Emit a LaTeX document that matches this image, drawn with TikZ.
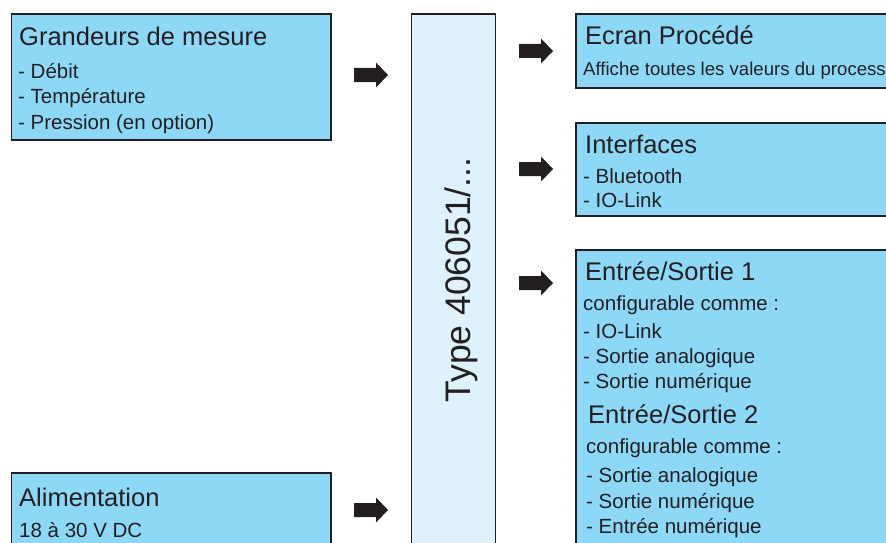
\documentclass[tikz,border=0pt]{standalone}
\usepackage{fontspec}
\setmainfont{Liberation Sans}
\definecolor{boxblue}{HTML}{8DD8F7}
\definecolor{paleblue}{HTML}{DFF2FB}
\definecolor{inkblack}{HTML}{231F20}

\begin{document}
\begin{tikzpicture}[x=1pt,y=-1pt,
    box/.style={draw=inkblack,line width=1.8pt,fill=boxblue},
    title/.style={anchor=base west,inner sep=0pt,text=inkblack,font=\fontsize{25.5}{30}\selectfont},
    item/.style={anchor=base west,inner sep=0pt,text=inkblack,font=\fontsize{20.5}{24}\selectfont}]
    \useasboundingbox (0,0) rectangle (886,543);
    \clip (0,0) rectangle (886,543);
    % boxes
    \draw[box] (11.5,14) rectangle (331,140);
    \draw[box] (11.5,473) rectangle (331,560);
    \draw[draw=inkblack,line width=1.8pt,fill=paleblue] (411.5,14) rectangle (495.5,560);
    \draw[box] (576,14) rectangle (900,88);
    \draw[box] (576,123) rectangle (900,216);
    \draw[box] (576,250) rectangle (900,560);
    % block arrows
    \foreach \ax/\ay in {354/75, 354/510, 519/51, 519/169, 519/283}
        \fill[inkblack] (\ax,\ay) ++(0,-7) -- ++(22,0) -- ++(0,-5.5) -- ++(12,12.5)
            -- ++(-12,12.5) -- ++(0,-5.5) -- ++(-22,0) -- cycle;
    % type
    \node[rotate=90,anchor=base,inner sep=0pt,text=inkblack,font=\fontsize{35.5}{40}\selectfont] (type) at (470,280) {Type 406051/...};
    % grandeurs de mesure
    \node[title] (gm) at (19,46) {Grandeurs de mesure};
    \node[item] (gm1) at (18,78) {- Débit};
    \node[item] (gm2) at (18,103) {- Température};
    \node[item] (gm3) at (18,129) {- Pression (en option)};
    % alimentation
    \node[title] (alim) at (19,506) {Alimentation};
    \node[item] (alim1) at (19,537) {18 à 30 V DC};
    % ecran
    \node[title] (ecran) at (585,45) {Ecran Procédé};
    \node[item,font=\fontsize{18.6}{22}\selectfont] (ecran1) at (583,76) {Affiche toutes les valeurs du process};
    % interfaces
    \node[title] (intf) at (585,153) {Interfaces};
    \node[item] (intf1) at (583,183) {- Bluetooth};
    \node[item] (intf2) at (583,207) {- IO-Link};
    % entree/sortie
    \node[title] (es1) at (585,280) {Entrée/Sortie 1};
    \node[item] (es1a) at (583,310) {configurable comme :};
    \node[item] (es1b) at (583,338) {- IO-Link};
    \node[item] (es1c) at (583,363) {- Sortie analogique};
    \node[item] (es1d) at (583,388) {- Sortie numérique};
    \node[title] (es2) at (588,423) {Entrée/Sortie 2};
    \node[item] (es2a) at (586,453) {configurable comme :};
    \node[item] (es2b) at (586,482) {- Sortie analogique};
    \node[item] (es2c) at (586,508) {- Sortie numérique};
    \node[item] (es2d) at (586,533) {- Entrée numérique};
\end{tikzpicture}
\end{document}
